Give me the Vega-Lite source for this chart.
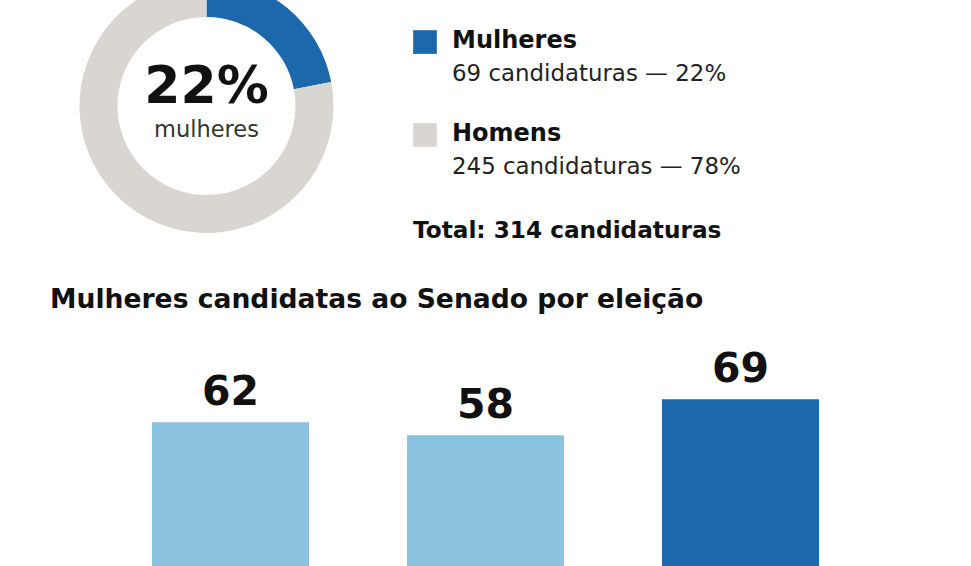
{
  "$schema": "https://vega.github.io/schema/vega-lite/v6.json",
  "padding": {"top": -21, "left": 0, "right": 0, "bottom": -59},
  "bounds": "flush",
  "spacing": 114,
  "background": "white",
  "resolve": {"scale": {"color": "independent"}},
  "config": {
    "view": {"stroke": null},
    "font": "DejaVu Sans",
    "text": {"font": "DejaVu Sans"}
  },
  "datasets": {
    "genero": [
      {"genero": "Mulheres", "candidaturas": 69, "ordem": 1, "detalhe": "69 candidaturas — 22%"},
      {"genero": "Homens", "candidaturas": 245, "ordem": 2, "detalhe": "245 candidaturas — 78%"}
    ],
    "centro": [
      {"linha": "valor", "texto": "22%"},
      {"linha": "rotulo", "texto": "mulheres"}
    ],
    "total": [
      {"genero": "Total", "texto": "Total: 314 candidaturas"}
    ],
    "eleicoes": [
      {"eleicao": "2014", "mulheres": 62, "destaque": "anterior"},
      {"eleicao": "2018", "mulheres": 58, "destaque": "anterior"},
      {"eleicao": "2022", "mulheres": 69, "destaque": "atual"}
    ]
  },
  "vconcat": [
    {
      "width": 413,
      "height": 254,
      "layer": [
        {
          "data": {"name": "genero"},
          "mark": {"type": "arc", "outerRadius": 127, "innerRadius": 89},
          "encoding": {
            "theta": {"field": "candidaturas", "type": "quantitative", "stack": true},
            "order": {"field": "ordem", "type": "quantitative"},
            "color": {
              "field": "genero",
              "type": "nominal",
              "scale": {"domain": ["Mulheres", "Homens"], "range": ["#1d68ad", "#d9d6d2"]},
              "legend": null
            }
          }
        },
        {
          "data": {"name": "centro"},
          "transform": [{"filter": "datum.linha == 'valor'"}],
          "mark": {"type": "text", "fontSize": 52, "fontWeight": "bold", "color": "#111111", "align": "center", "baseline": "alphabetic", "dy": -3},
          "encoding": {"text": {"field": "texto"}}
        },
        {
          "data": {"name": "centro"},
          "transform": [{"filter": "datum.linha == 'rotulo'"}],
          "mark": {"type": "text", "fontSize": 22.5, "color": "#333333", "align": "center", "baseline": "alphabetic", "dy": 31},
          "encoding": {"text": {"field": "texto"}}
        },
        {
          "data": {"name": "genero"},
          "mark": {"type": "square", "size": 560, "opacity": 1, "filled": true, "xOffset": 218.5, "yOffset": 29},
          "encoding": {
            "y": {"field": "genero", "type": "ordinal", "scale": {"type": "point", "domain": ["Mulheres", "Homens", "Total"], "padding": 0.366}, "axis": null},
            "color": {
              "field": "genero",
              "type": "nominal",
              "scale": {"domain": ["Mulheres", "Homens"], "range": ["#1d68ad", "#d9d6d2"]},
              "legend": null
            }
          }
        },
        {
          "data": {"name": "genero"},
          "mark": {"type": "text", "fontSize": 24, "fontWeight": "bold", "color": "#111111", "align": "left", "baseline": "alphabetic", "dx": 245.5, "dy": 34.5},
          "encoding": {
            "y": {"field": "genero", "type": "ordinal"},
            "text": {"field": "genero"}
          }
        },
        {
          "data": {"name": "genero"},
          "mark": {"type": "text", "fontSize": 22.9, "color": "#222222", "align": "left", "baseline": "alphabetic", "dx": 245.5, "dy": 67.5},
          "encoding": {
            "y": {"field": "genero", "type": "ordinal"},
            "text": {"field": "detalhe"}
          }
        },
        {
          "data": {"name": "total"},
          "mark": {"type": "text", "fontSize": 23.2, "fontWeight": "bold", "color": "#111111", "align": "left", "baseline": "alphabetic", "dx": 206.5, "dy": 39},
          "encoding": {
            "y": {"field": "genero", "type": "ordinal"},
            "text": {"field": "texto"}
          }
        }
      ]
    },
    {
      "width": 971,
      "height": 278,
      "data": {"name": "eleicoes"},
      "title": {
        "text": "Mulheres candidatas ao Senado por eleição",
        "anchor": "start",
        "frame": "group",
        "dx": 50,
        "offset": 12,
        "baseline": "alphabetic",
        "fontSize": 26.6,
        "fontWeight": "bold",
        "font": "DejaVu Sans",
        "color": "#111111"
      },
      "encoding": {
        "x": {"field": "eleicao", "type": "ordinal", "scale": {"type": "band", "paddingInner": 0.384, "paddingOuter": 0.596}, "axis": null},
        "y": {"field": "mulheres", "type": "quantitative", "scale": {"domain": [0, 85], "nice": false}, "axis": null}
      },
      "layer": [
        {
          "mark": {"type": "bar"},
          "encoding": {
            "color": {
              "field": "destaque",
              "type": "nominal",
              "scale": {"domain": ["anterior", "atual"], "range": ["#8bc2de", "#1d68ad"]},
              "legend": null
            }
          }
        },
        {
          "mark": {"type": "text", "fontSize": 41, "fontWeight": "bold", "color": "#111111", "align": "center", "baseline": "alphabetic", "dy": -17},
          "encoding": {"text": {"field": "mulheres", "type": "quantitative"}}
        }
      ]
    }
  ]
}
